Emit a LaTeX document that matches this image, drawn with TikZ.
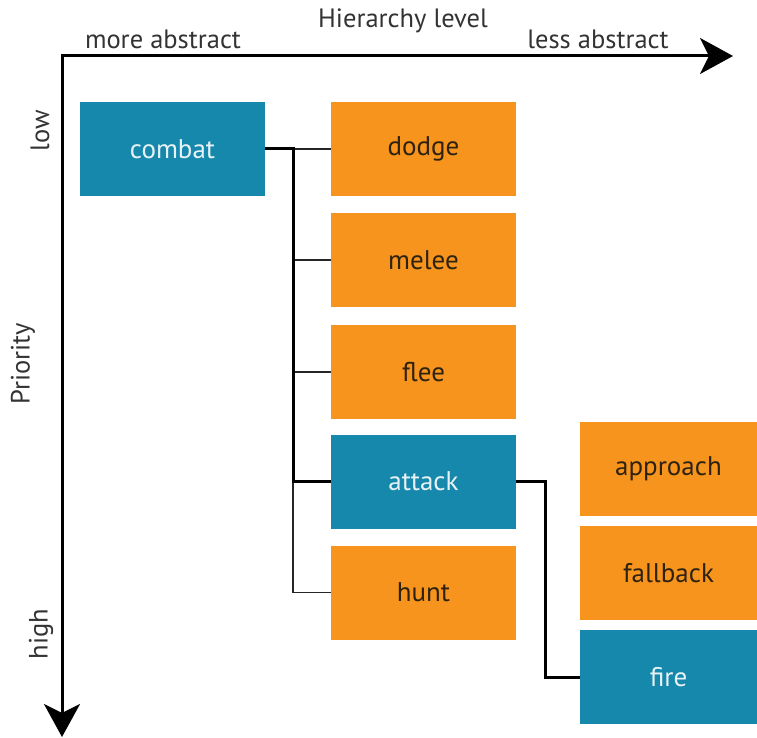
\documentclass[tikz,border=0pt]{standalone}
\usepackage{fontspec}
\setmainfont{PT Sans}
\usetikzlibrary{arrows.meta}
\definecolor{tealc}{HTML}{1688AC}
\definecolor{orangec}{HTML}{F7941D}
\definecolor{labelc}{HTML}{333333}
\definecolor{darktxt}{HTML}{2E2210}
\definecolor{lighttxt}{HTML}{E8F2F6}
\tikzset{
  boxbase/.style={rectangle, inner sep=0pt, minimum height=94pt, font=\fontsize{27}{30}\selectfont},
  tealbox/.style={boxbase, fill=tealc, text=lighttxt},
  orangebox/.style={boxbase, fill=orangec, text=darktxt},
  midw/.style={minimum width=185pt},
  rightw/.style={minimum width=177pt},
  axisline/.style={line width=3pt, draw=black, {Stealth[length=33pt,width=36pt,inset=9pt]}-{Stealth[length=33pt,width=36pt,inset=9pt]}},
  thickc/.style={line width=3pt, draw=black},
  thinc/.style={line width=1.2pt, draw=black!85},
  lbl/.style={text=labelc, font=\fontsize{26.5}{29}\selectfont, inner sep=0pt}
}
\begin{document}
\begin{tikzpicture}[x=1pt,y=-1pt]
\useasboundingbox (0,0) rectangle (757,738);
% axes
\coordinate (xend) at (733,56);
\coordinate (origin) at (62,56);
\coordinate (yend) at (62,737);
\draw[axisline] (xend) -- (origin) -- (yend);
% axis labels
\node[lbl] (hl) at (403,21) {Hierarchy level};
\node[lbl] (ma) at (163,39) {more abstract};
\node[lbl] (la) at (598,39) {less abstract};
\node[lbl, rotate=90] (low) at (40,131) {low};
\node[lbl, rotate=90] (prio) at (23,364) {Priority};
\node[lbl, rotate=90] (high) at (41,634) {high};
% boxes
\node[tealbox, midw] (combat) at (172.5,149) {combat};
\node[orangebox, midw] (dodge) at (423.5,149) {dodge};
\node[orangebox, midw] (melee) at (423.5,260) {melee};
\node[orangebox, midw] (flee) at (423.5,372) {flee};
\node[tealbox, midw] (attack) at (423.5,481.5) {attack};
\node[orangebox, midw] (hunt) at (423.5,592.5) {hunt};
\node[orangebox, rightw] (approach) at (668.5,469) {approach};
\node[orangebox, rightw] (fallback) at (668.5,573) {fallback};
\node[tealbox, rightw] (fire) at (668.5,677) {fire};
% connectors
\coordinate (sp) at (293,149);
\coordinate (sp2) at (545,481.5);
\draw[thinc] (sp) -- (dodge.west);
\draw[thinc] (sp |- melee.west) -- (melee.west);
\draw[thinc] (sp |- flee.west) -- (flee.west);
\draw[thinc] (sp |- attack.west) |- (hunt.west);
\draw[thickc] (combat.east) -- (sp) |- (attack.west);
\draw[thickc] (attack.east) -- (sp2) |- (fire.west);
\end{tikzpicture}
\end{document}
